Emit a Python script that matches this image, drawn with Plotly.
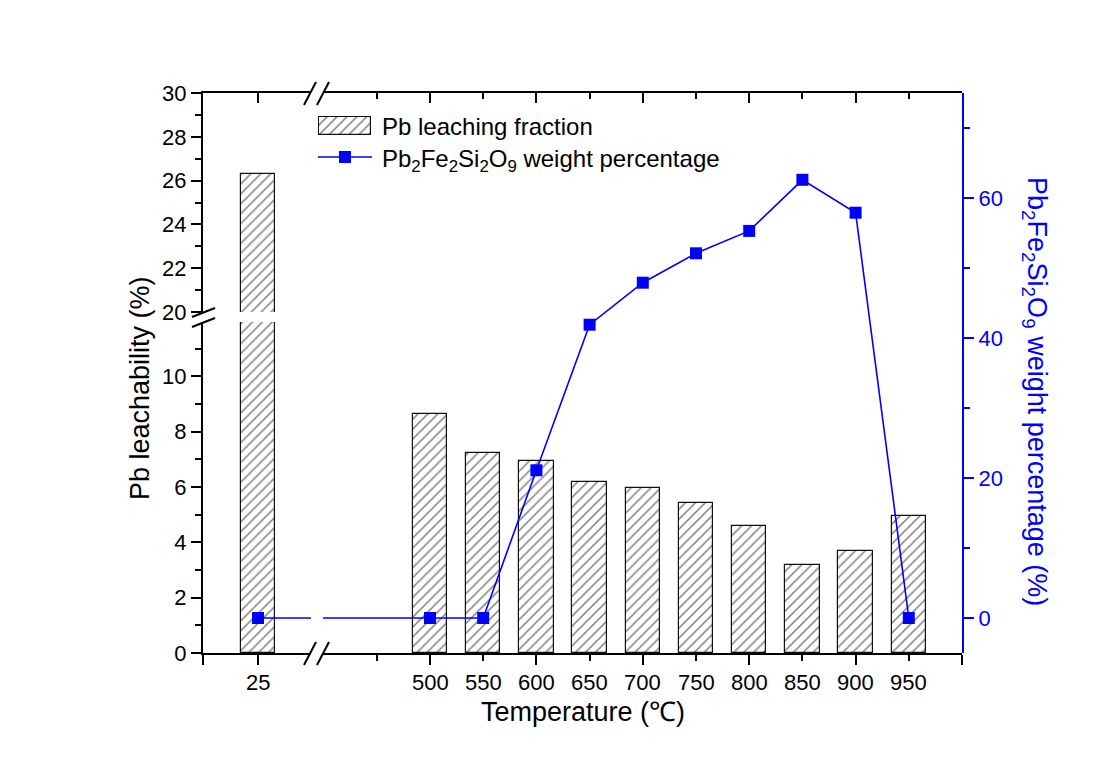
import plotly.graph_objects as go

# ---------------- data ----------------
temps = [25, 500, 550, 600, 650, 700, 750, 800, 850, 900, 950]
tick_labels = ["25", "500", "550", "600", "650", "700", "750", "800", "850", "900", "950"]
leach_fraction = [26.3, 8.64, 7.23, 6.94, 6.18, 5.97, 5.42, 4.59, 3.18, 3.69, 4.95]
pb_wt_pct = [0, 0, 0, 21.1, 41.9, 47.9, 52.1, 55.3, 62.6, 57.9, 0]

left_low_ticks = [0, 2, 4, 6, 8, 10]
left_low_minor = [1, 3, 5, 7, 9, 11]
left_up_ticks = [20, 22, 24, 26, 28, 30]
left_up_minor = [21, 23, 25, 27, 29]
right_ticks = [0, 20, 40, 60]
right_minor = [10, 30, 50, 70]
x_major_temps = [0, 25, 500, 600, 700, 800, 900, 1000]
x_minor_temps = [450, 550, 650, 750, 850, 950]

COMPOUND = "Pb<sub>2</sub>Fe<sub>2</sub>Si<sub>2</sub>O<sub>9</sub>"

# ------------- broken x-axis mapping -------------
X_LEFT = 286.65          # axis start (segment 1 origin)
X_RIGHT = 1000.0
SEG1_SCALE = 2.068       # segment-1 (0..~50) stretched scale


def axis_x(t):
    return t if t >= 450 else X_LEFT + t * SEG1_SCALE


xs = [axis_x(t) for t in temps]
x_major = [axis_x(t) for t in x_major_temps]
x_minor = [axis_x(t) for t in x_minor_temps]

# ------------- layout geometry -------------
W, H = 1100, 773
L, R, T, B = 203, 138, 93, 120
PW, PH = W - L - R, H - T - B


def px(xp):
    return (xp - L) / PW


def py(yp):
    return (H - B - yp) / PH


FONT = "Liberation Sans, Arial, sans-serif"
BLUE = "#0000FF"
HATCH = dict(shape="/", fgcolor="#000000", bgcolor="white", size=7, solidity=0.22)
BAR_MARKER = dict(color="white", line=dict(color="#111111", width=1.2), pattern=HATCH)
TICK_SIZE = 22

fig = go.Figure()

# bars: lower segment (x / y) and upper segment (x3 / y3) of the broken y axis
fig.add_trace(go.Bar(x=xs, y=leach_fraction, width=32.5, marker=BAR_MARKER,
                     xaxis="x", yaxis="y", showlegend=False, hoverinfo="skip"))
fig.add_trace(go.Bar(x=xs, y=leach_fraction, width=32.5, marker=BAR_MARKER,
                     xaxis="x3", yaxis="y3", showlegend=False, hoverinfo="skip"))

# line on right axis
fig.add_trace(go.Scatter(x=xs, y=pb_wt_pct, mode="lines+markers", xaxis="x", yaxis="y2",
                         line=dict(color=BLUE, width=1.6),
                         marker=dict(symbol="square", size=12, color=BLUE),
                         showlegend=False, hoverinfo="skip", cliponaxis=False))

# legend swatches (mini axes)
fig.add_trace(go.Bar(x=[0], y=[1], width=1, marker=BAR_MARKER, xaxis="x5", yaxis="y5",
                     showlegend=False, hoverinfo="skip"))
fig.add_trace(go.Scatter(x=[0, 1], y=[0.5, 0.5], mode="lines",
                         line=dict(color=BLUE, width=1.6),
                         xaxis="x6", yaxis="y6", showlegend=False, hoverinfo="skip",
                         cliponaxis=False))
fig.add_trace(go.Scatter(x=[0.5], y=[0.5], mode="markers",
                         marker=dict(symbol="square", size=12, color=BLUE),
                         xaxis="x6", yaxis="y6", showlegend=False, hoverinfo="skip",
                         cliponaxis=False))

tickfont = dict(family=FONT, size=TICK_SIZE, color="black")
common_y = dict(showgrid=False, zeroline=False, showline=True, linewidth=2, linecolor="black",
                ticks="outside", ticklen=10, tickwidth=2, tickcolor="black", tickfont=tickfont,
                tickmode="array")


def minor_ticks(vals, direction, color="black"):
    return dict(tickmode="array", tickvals=vals, ticks=direction, ticklen=6,
                tickwidth=2, tickcolor=color, showgrid=False)


hidden = dict(visible=False, showticklabels=False, ticks="", showgrid=False, zeroline=False,
              showline=False, tickmode="array", tickvals=[])

fig.update_layout(
    width=W, height=H,
    margin=dict(l=L, r=R, t=T, b=B),
    paper_bgcolor="white", plot_bgcolor="rgba(0,0,0,0)",
    font=dict(family=FONT, color="black"),
    showlegend=False,
    bargap=0,
    xaxis=dict(range=[X_LEFT, X_RIGHT], domain=[0, 1], anchor="y", side="bottom", showgrid=False,
               zeroline=False, showline=True, linewidth=2, linecolor="black", tickmode="array",
               tickvals=x_major, ticks="outside", ticklen=10, tickwidth=2, tickcolor="black",
               showticklabels=False, minor=minor_ticks(x_minor, "outside")),
    xaxis3=dict(range=[X_LEFT, X_RIGHT], domain=[0, 1], anchor="y3", side="top", showgrid=False,
                zeroline=False, showline=True, linewidth=2, linecolor="black", tickmode="array",
                tickvals=x_major, ticks="inside", ticklen=10, tickwidth=2, tickcolor="black",
                showticklabels=False, minor=minor_ticks(x_minor, "inside")),
    yaxis=dict(range=[0, 11.97], domain=[0, py(322)], anchor="x", tickvals=left_low_ticks,
               minor=minor_ticks(left_low_minor, "outside"), **common_y),
    yaxis3=dict(range=[20, 30], domain=[py(312), 1], anchor="x3", tickvals=left_up_ticks,
                minor=minor_ticks(left_up_minor, "outside"), **common_y),
    yaxis2=dict(range=[-5, 75], domain=[0, 1], anchor="x", side="right", showgrid=False,
                zeroline=False, showline=True, linewidth=2, linecolor=BLUE, tickmode="array",
                tickvals=right_ticks, ticks="outside", ticklen=10, tickwidth=2, tickcolor=BLUE,
                tickfont=dict(family=FONT, size=TICK_SIZE, color=BLUE),
                minor=minor_ticks(right_minor, "outside", BLUE)),
    xaxis5=dict(domain=[px(318), px(372)], range=[-0.52, 0.52], anchor="y5", **hidden),
    yaxis5=dict(domain=[py(136), py(116)], range=[-0.03, 1.03], anchor="x5", **hidden),
    xaxis6=dict(domain=[px(318), px(372)], range=[0, 1], anchor="y6", **hidden),
    yaxis6=dict(domain=[py(167), py(147)], range=[0, 1], anchor="x6", **hidden),
)

# ---------------- break marks ----------------
shapes = []


def white_rect(x0, y0, x1, y1):
    shapes.append(dict(type="rect", xref="paper", yref="paper", x0=px(x0), x1=px(x1),
                       y0=py(y1), y1=py(y0), fillcolor="white", line=dict(width=0), layer="above"))


def slash(x0, y0, x1, y1):
    shapes.append(dict(type="line", xref="paper", yref="paper", x0=px(x0), y0=py(y0),
                       x1=px(x1), y1=py(y1), line=dict(color="black", width=2), layer="above"))


# gap in the line at x break
white_rect(311, 611, 323, 623)
# bottom axis break
white_rect(311, 648, 323, 658)
slash(304, 665, 316, 642)
slash(317, 665, 329, 642)
# top axis break
white_rect(311, 88, 323, 98)
slash(304, 105, 316, 82)
slash(317, 105, 329, 82)
# left axis break
slash(192, 317, 215, 308)
slash(192, 327, 215, 318)

fig.update_layout(shapes=shapes)

# ---------------- titles, x tick labels & legend text ----------------
ann = []
for xv, lab in zip(xs, tick_labels):
    ann.append(dict(text=lab, x=xv, y=py(682), xref="x", yref="paper", showarrow=False,
                    font=dict(family=FONT, size=TICK_SIZE, color="black"),
                    xanchor="center", yanchor="middle"))
ann.append(dict(text="Temperature (\u2103)", x=px(583), y=py(712), xref="paper", yref="paper",
                showarrow=False, font=dict(family=FONT, size=27, color="black"),
                xanchor="center", yanchor="middle"))
ann.append(dict(text="Pb leachability (%)", x=px(140), y=py(388), xref="paper", yref="paper",
                showarrow=False, textangle=-90, font=dict(family=FONT, size=27, color="black"),
                xanchor="center", yanchor="middle"))
ann.append(dict(text=COMPOUND + " weight percentage (%)",
                x=px(1035), y=py(391), xref="paper", yref="paper", showarrow=False, textangle=90,
                font=dict(family=FONT, size=27, color=BLUE), xanchor="center", yanchor="middle"))
ann.append(dict(text="Pb leaching fraction", x=px(380), y=py(126), xref="paper", yref="paper",
                showarrow=False, font=dict(family=FONT, size=24, color="black"),
                xanchor="left", yanchor="middle"))
ann.append(dict(text=COMPOUND + " weight percentage",
                x=px(380), y=py(160), xref="paper", yref="paper", showarrow=False,
                font=dict(family=FONT, size=24, color="black"), xanchor="left", yanchor="middle"))
fig.update_layout(annotations=ann)

fig.write_html("out.html", config={"displayModeBar": False})
